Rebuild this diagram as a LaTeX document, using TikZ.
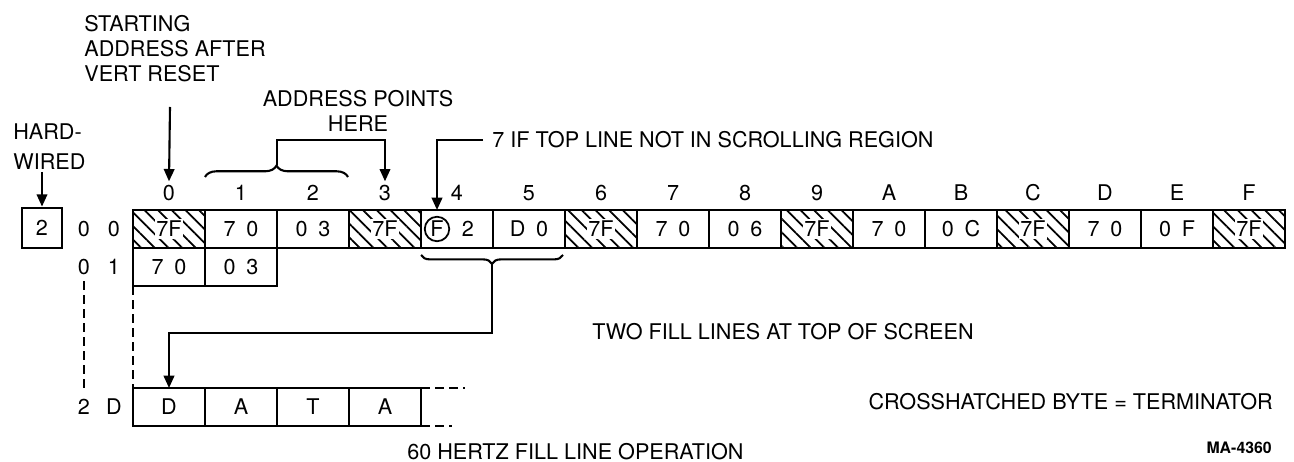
\documentclass[tikz,border=0pt]{standalone}
\usepackage{fontspec}
\setmainfont{TeX Gyre Heros}
\usetikzlibrary{arrows.meta,positioning,calc,decorations.pathreplacing,patterns.meta}
\newcommand{\byt}[2]{#1\enskip#2}
\tikzset{
  % one byte of the fill-line list
  box/.style   = {draw, line width=1.6pt, minimum width=1.44cm, minimum height=0.76cm,
                  inner sep=0pt, outer sep=0pt},
  cell/.style  = {box, label={center:#1}},
  term/.style  = {box, pattern={Lines[angle=-45,distance=5.5pt,line width=1pt]},
                  label={[fill=white, inner sep=1pt]center:#1}},
  colno/.style = {inner sep=2pt},
  note/.style  = {inner sep=0pt, align=left},
  arr/.style   = {-{Triangle[length=7pt,width=6pt]}, line width=1.2pt},
  dline/.style = {line width=1.2pt, dash pattern=on 5pt off 3pt},
  brc/.style   = {decorate, decoration={brace, amplitude=#1}, line width=1.2pt},
}

\begin{document}
\begin{tikzpicture}[x=0.02cm, y=-0.02cm, font=\fontsize{12.3}{14.2}\selectfont]
\useasboundingbox (0,0) rectangle (1294,462);
% --- column numbers ------------------------------------------------------
\foreach \h [count=\k from 0] in {0,1,2,3,4,5,6,7,8,9,A,B,C,D,E,F}
  \node[colno] (l\k) at ({169+72*\k},193) {\h};
% --- row 0 0 --------------------------------------------------------------
\foreach \k/\v in {1/\byt70, 2/\byt03, 4/{}, 5/\byt D0, 7/\byt70, 8/\byt06,
                   10/\byt70, 11/\byt0C, 13/\byt70, 14/\byt0F}
  \node[cell=\v] (c\k) at ({169+72*\k},229) {};
\foreach \k in {0,3,6,9,12,15}
  \node[term=7F] (c\k) at ({169+72*\k},229) {};
\node[circle, draw, line width=1pt, inner sep=0.8pt] (fmark) at (437,229) {F};
\node (ftwo) at (468,229) {2};
% --- row 0 1 --------------------------------------------------------------
\node[cell=\byt70] (r1c0) at (169,267) {};
\node[cell=\byt03] (r1c1) at (241,267) {};
% --- row 2 D --------------------------------------------------------------
\foreach \v [count=\k from 0] in {D,A,T,A}
  \node[cell=\v] (d\k) at ({169+72*\k},407) {};
\draw[dline] (d3.north east) -- ++(44,0);
\draw[dline] (d3.south east) -- ++(31,0);
\draw[dline] (r1c0.south west) -- (d0.north west);
% --- row addresses --------------------------------------------------------
\node (z0) at (84,229) {0};
\node (z1) at (114,229) {0};
\node (z2) at (84,267) {0};
\node (z3) at (114,267) {1};
\node (z4) at (84,407) {2};
\node (z5) at (114,407) {D};
\draw[dline] (z2.south) -- (z4.north);
% --- hard-wired high byte -------------------------------------------------
\node[note, anchor=north west] (hwtxt) at (13,123) {HARD-\\[3pt]WIRED};
\node[draw, line width=1.6pt, minimum size=0.8cm, inner sep=0pt] (hw) at (42,228) {2};
\coordinate (hwtop) at (42,172);
\draw[arr] (hwtop) -- (hw.north);
% --- starting address ----------------------------------------------------
\node[note, anchor=north west] (start) at (84,15) {STARTING\\ADDRESS AFTER\\VERT RESET};
\coordinate (s0) at (170,107);
\draw[arr] (s0) -- (l0.north);
% --- address points here -------------------------------------------------
\node[align=center, inner sep=0pt] (addr) at (358,111) {ADDRESS POINTS\\HERE};
\draw[brc=6.5pt] (205,177) -- (348,177);
\coordinate (b1tip) at (277,165);
\draw[arr] (b1tip) -- ++(0,-25) -| (l3.north);
% --- scrolling flag ------------------------------------------------------
\node[note, anchor=west] (seven) at (492,140) {7 IF TOP LINE NOT IN SCROLLING REGION};
\draw[arr] ([xshift=-5pt]seven.west) -| (fmark |- c4.north);
% --- jump to the data line -----------------------------------------------
\draw[brc=5pt, decoration={brace, mirror, amplitude=5pt}] (421,255) -- (563,255);
\coordinate (b2tip) at (492,264);
\draw[arr] (b2tip) -- ++(0,69) -| (d0.north);
% --- notes ---------------------------------------------------------------
\node[note, anchor=west] (twofill) at (592,332) {TWO FILL LINES AT TOP OF SCREEN};
\node[note, anchor=west] (sixty) at (407,452) {60 HERTZ FILL LINE OPERATION};
\node[note, anchor=east] (cross) at (1273,402) {CROSSHATCHED BYTE = TERMINATOR};
\node[note, anchor=east, font=\fontsize{9}{10}\selectfont\bfseries] (ma) at (1272,448) {MA-4360};
\end{tikzpicture}
\end{document}
